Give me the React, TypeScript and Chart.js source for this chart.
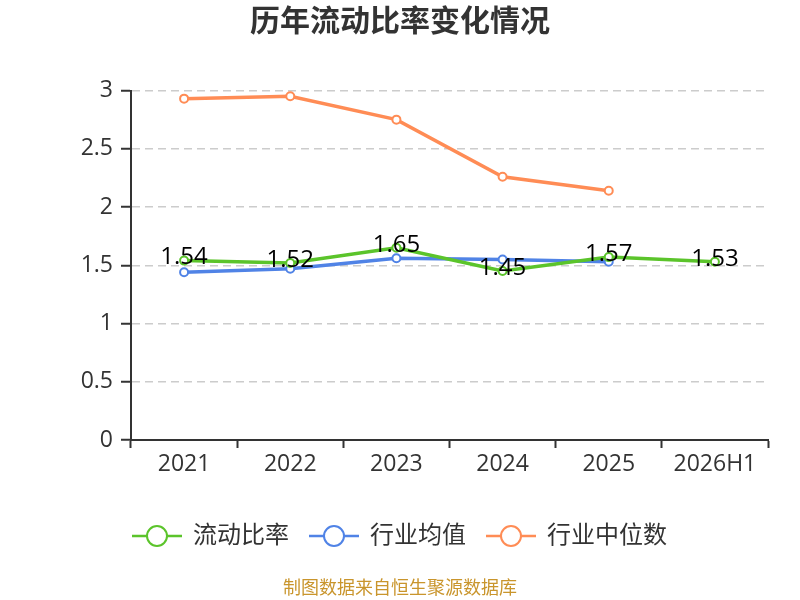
import { useEffect, useRef } from "react";
import { Chart, registerables } from "chart.js";
import type { Plugin } from "chart.js";

Chart.register(...registerables);

const years = ["2021", "2022", "2023", "2024", "2025", "2026H1"];
const currentRatio = [1.54, 1.52, 1.65, 1.45, 1.57, 1.53];
const industryMean = [1.44, 1.47, 1.56, 1.55, 1.53, null];
const industryMedian = [2.93, 2.95, 2.75, 2.26, 2.14, null];
const seriesNames = ["流动比率", "行业均值", "行业中位数"];
const seriesColors = ["#5bc42b", "#5083e6", "#ff8c55"];
const titleText = "历年流动比率变化情况";
const sourceText = "制图数据来自恒生聚源数据库";

const FONT = '"Open Sans", "Noto Sans CJK SC", sans-serif';

// legend symbol: short line with a hollow circle in the middle
function legendMarker(color: string) {
  const c = document.createElement("canvas");
  c.width = 50;
  c.height = 24;
  const ctx = c.getContext("2d")!;
  ctx.strokeStyle = color;
  ctx.lineWidth = 2.5;
  ctx.beginPath();
  ctx.moveTo(0, 12);
  ctx.lineTo(50, 12);
  ctx.stroke();
  ctx.beginPath();
  ctx.arc(25, 12, 10, 0, Math.PI * 2);
  ctx.fillStyle = "#fff";
  ctx.fill();
  ctx.lineWidth = 2;
  ctx.stroke();
  return c;
}

const valueLabels: Plugin<"line"> = {
  id: "valueLabels",
  afterDatasetsDraw(chart) {
    const meta = chart.getDatasetMeta(0);
    const ctx = chart.ctx;
    ctx.save();
    ctx.font = `24px ${FONT}`;
    ctx.fillStyle = "#000";
    ctx.textAlign = "center";
    ctx.textBaseline = "middle";
    meta.data.forEach((pt, i) => {
      ctx.fillText(currentRatio[i].toFixed(2), pt.x, pt.y - 3);
    });
    ctx.restore();
  },
};

function makeDataset(label: string, data: (number | null)[], color: string) {
  return {
    label,
    data,
    borderColor: color,
    backgroundColor: "#fff",
    borderWidth: 3.5,
    pointRadius: 4,
    pointBorderWidth: 2,
    pointBackgroundColor: "#fff",
    pointBorderColor: color,
    tension: 0,
  };
}

export default function App() {
  const canvasRef = useRef<HTMLCanvasElement>(null);

  useEffect(() => {
    document.body.style.margin = "0";
    if (!canvasRef.current) return;
    const markers = seriesColors.map(legendMarker);

    const chart = new Chart(canvasRef.current, {
      type: "line",
      data: {
        labels: years,
        datasets: [
          makeDataset(seriesNames[0], currentRatio, seriesColors[0]),
          makeDataset(seriesNames[1], industryMean, seriesColors[1]),
          makeDataset(seriesNames[2], industryMedian, seriesColors[2]),
        ],
      },
      options: {
        responsive: false,
        animation: false,
        events: [],
        layout: { padding: 0 },
        scales: {
          x: {
            offset: true,
            grid: {
              offset: true,
              drawOnChartArea: false,
              drawTicks: true,
              tickLength: 8,
              tickColor: "#333",
              tickWidth: 2,
            },
            border: { color: "#333", width: 2 },
            ticks: { color: "#333", font: { size: 23, family: FONT }, padding: 3 },
            afterFit(scale) {
              scale.height = 63;
            },
          },
          y: {
            min: 0,
            max: 3,
            ticks: {
              stepSize: 0.5,
              color: "#333",
              font: { size: 23, family: FONT },
              padding: 8,
              callback: (v) => String(Number(v)),
            },
            grid: {
              color: "#cccccc",
              lineWidth: 1.5,
              tickLength: 10,
              tickColor: "#333",
              tickWidth: 2,
              tickBorderDash: [],
            },
            border: { color: "#333", width: 2, dash: [8, 5] },
            afterFit(scale) {
              scale.width = 131;
            },
          },
          // empty right-hand spacer so the title and legend stay centred on the page
          spacer: {
            type: "linear",
            position: "right",
            display: true,
            grid: { display: false, drawTicks: false },
            border: { display: false },
            ticks: { display: false },
            afterFit(scale) {
              scale.width = 32;
            },
          },
        },
        plugins: {
          tooltip: { enabled: false },
          title: {
            display: true,
            text: titleText,
            color: "#333",
            font: { size: 30, weight: "bold", family: FONT },
            padding: { top: 4.5, bottom: 50 },
          },
          subtitle: {
            display: true,
            position: "bottom",
            text: sourceText,
            color: "#c9952c",
            font: { size: 18, family: FONT },
            padding: { top: 20.4, bottom: 0 },
          },
          legend: {
            position: "bottom",
            labels: {
              usePointStyle: true,
              pointStyleWidth: 48,
              padding: 21,
              color: "#333",
              font: { size: 24, family: FONT },
              generateLabels(c) {
                const items = Chart.defaults.plugins.legend.labels.generateLabels(c);
                return items.map((it, i) => ({ ...it, pointStyle: markers[i] as any }));
              },
            },
          },
        },
      },
      plugins: [valueLabels],
    });

    return () => chart.destroy();
  }, []);

  return (
    <div style={{ width: 800, height: 600 }}>
      <canvas ref={canvasRef} width={800} height={600} />
    </div>
  );
}
